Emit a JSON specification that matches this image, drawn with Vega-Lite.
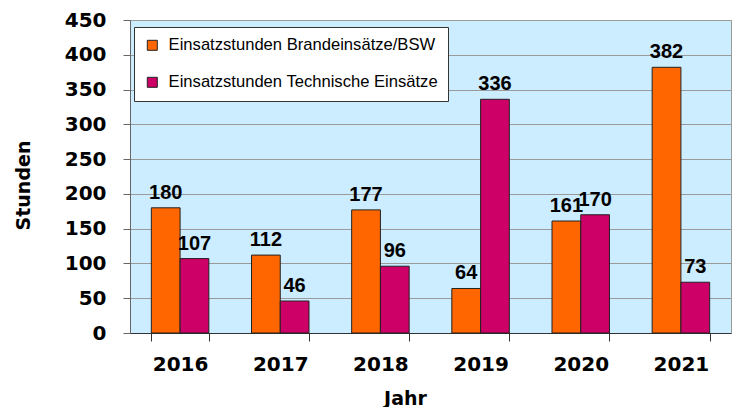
{
  "$schema": "https://vega.github.io/schema/vega-lite/v6.json",
  "autosize": {"type": "none"},
  "width": 601,
  "height": 313,
  "padding": {"left": 130, "top": 20, "right": 7, "bottom": 74},
  "background": "white",
  "config": {
    "view": {"fill": "#CCECFF", "stroke": "#9a9a9a", "strokeWidth": 1}
  },
  "data": {
    "values": [
      {"Jahr": "2016", "Reihe": "Einsatzstunden Brandeinsätze/BSW", "Stunden": 180},
      {"Jahr": "2016", "Reihe": "Einsatzstunden Technische Einsätze", "Stunden": 107},
      {"Jahr": "2017", "Reihe": "Einsatzstunden Brandeinsätze/BSW", "Stunden": 112},
      {"Jahr": "2017", "Reihe": "Einsatzstunden Technische Einsätze", "Stunden": 46},
      {"Jahr": "2018", "Reihe": "Einsatzstunden Brandeinsätze/BSW", "Stunden": 177},
      {"Jahr": "2018", "Reihe": "Einsatzstunden Technische Einsätze", "Stunden": 96},
      {"Jahr": "2019", "Reihe": "Einsatzstunden Brandeinsätze/BSW", "Stunden": 64},
      {"Jahr": "2019", "Reihe": "Einsatzstunden Technische Einsätze", "Stunden": 336},
      {"Jahr": "2020", "Reihe": "Einsatzstunden Brandeinsätze/BSW", "Stunden": 161},
      {"Jahr": "2020", "Reihe": "Einsatzstunden Technische Einsätze", "Stunden": 170},
      {"Jahr": "2021", "Reihe": "Einsatzstunden Brandeinsätze/BSW", "Stunden": 382},
      {"Jahr": "2021", "Reihe": "Einsatzstunden Technische Einsätze", "Stunden": 73}
    ]
  },
  "encoding": {
    "x": {
      "field": "Jahr",
      "type": "nominal",
      "scale": {"paddingInner": 0.426, "paddingOuter": 0.213},
      "axis": {
        "title": "Jahr",
        "labelAngle": 0,
        "labelFont": "DejaVu Sans",
        "labelFontWeight": "bold",
        "labelFontSize": 20,
        "labelColor": "black",
        "labelPadding": 13,
        "tickBand": "extent",
        "tickSize": 8,
        "tickColor": "#333333",
        "domainColor": "#333333",
        "titleFont": "DejaVu Sans",
        "titleFontWeight": "bold",
        "titleFontSize": 19,
        "titleColor": "black",
        "titleX": 275,
        "titleY": 71,
        "titleBaseline": "alphabetic",
        "titleAlign": "center",
        "grid": false
      }
    },
    "xOffset": {
      "field": "Reihe",
      "type": "nominal",
      "scale": {"paddingInner": 0, "paddingOuter": 0}
    },
    "y": {
      "field": "Stunden",
      "type": "quantitative",
      "scale": {"domain": [0, 450], "nice": false},
      "axis": {
        "title": "Stunden",
        "values": [0, 50, 100, 150, 200, 250, 300, 350, 400, 450],
        "labelFont": "DejaVu Sans",
        "labelFontWeight": "bold",
        "labelFontSize": 20,
        "labelColor": "black",
        "labelPadding": 17,
        "tickSize": 7,
        "tickColor": "#666666",
        "domainColor": "#666666",
        "gridColor": "#9a9a9a",
        "gridOpacity": 1,
        "titleFont": "DejaVu Sans",
        "titleFontWeight": "bold",
        "titleFontSize": 19,
        "titleColor": "black",
        "titleAngle": -90,
        "titleX": -107,
        "titleY": 165,
        "titleAlign": "center",
        "titleBaseline": "middle"
      }
    }
  },
  "layer": [
    {
      "mark": {"type": "bar", "stroke": "#222222", "strokeWidth": 1},
      "encoding": {
        "color": {
          "field": "Reihe",
          "type": "nominal",
          "scale": {
            "domain": ["Einsatzstunden Brandeinsätze/BSW", "Einsatzstunden Technische Einsätze"],
            "range": ["#FF6600", "#CC0066"]
          },
          "legend": {
            "title": null,
            "orient": "none",
            "legendX": 4,
            "legendY": 7,
            "direction": "vertical",
            "fillColor": "white",
            "strokeColor": "#333333",
            "padding": 10,
            "rowPadding": 20,
            "symbolType": "square",
            "symbolSize": 100,
            "symbolStrokeColor": "#222222",
            "symbolStrokeWidth": 1,
            "labelFont": "Liberation Sans",
            "labelFontSize": 16.6,
            "labelColor": "black",
            "labelOffset": 8,
            "labelLimit": 400
          }
        }
      }
    },
    {
      "mark": {
        "type": "text",
        "font": "Liberation Sans",
        "fontWeight": "bold",
        "fontSize": 20,
        "baseline": "alphabetic",
        "dy": -9,
        "color": "black"
      },
      "encoding": {
        "text": {"field": "Stunden", "type": "quantitative"}
      }
    }
  ]
}
